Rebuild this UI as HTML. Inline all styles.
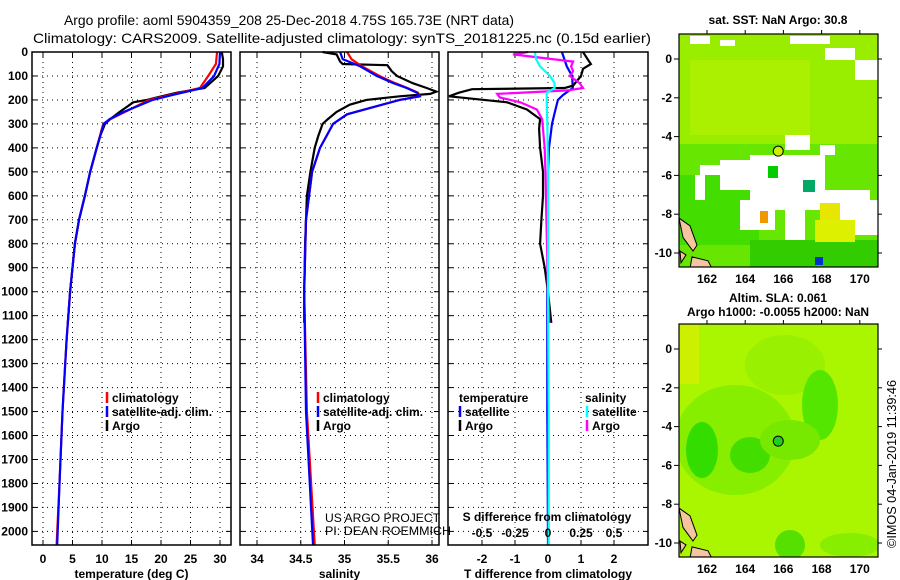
<!DOCTYPE html>
<html><head><meta charset="utf-8">
<style>
body{margin:0;background:#fff;}
svg{display:block;font-family:"Liberation Sans",sans-serif;}
.tk{font-size:12px;font-weight:bold;fill:#000;}
.lg{font-size:12px;font-weight:bold;fill:#000;}
</style></head>
<body>
<svg id="chart" width="900" height="580" viewBox="0 0 900 580" xmlns="http://www.w3.org/2000/svg">
<rect width="900" height="580" fill="#fff"/>
<text x="64" y="25" font-size="14" textLength="450" lengthAdjust="spacingAndGlyphs">Argo profile: aoml 5904359_208 25-Dec-2018 4.75S 165.73E (NRT data)</text>
<text x="33" y="43" font-size="14" textLength="618" lengthAdjust="spacingAndGlyphs">Climatology: CARS2009. Satellite-adjusted climatology: synTS_20181225.nc (0.15d earlier)</text>
<g id="plots"></g>
<g id="maps"></g>
<text x="325" y="522" font-size="12" textLength="115" lengthAdjust="spacingAndGlyphs">US ARGO PROJECT</text>
<text x="325" y="535" font-size="12" textLength="126" lengthAdjust="spacingAndGlyphs">PI: DEAN ROEMMICH</text>
<text transform="translate(896,548) rotate(-90)" font-size="13" textLength="168" lengthAdjust="spacingAndGlyphs">©IMOS 04-Jan-2019 11:39:46</text>
</svg>
<script>
const depthTicks=[0,100,200,300,400,500,600,700,800,900,1000,1100,1200,1300,1400,1500,1600,1700,1800,1900,2000];
const tClimDepth=[0,50,100,150,180,200,250,280,300,400,500,600,700,800,900,1000,1200,1500,1800,2056];
const tClimVal=[29.5,29.3,28.0,26.6,21.5,18.0,13.9,11.4,10.2,9.1,8.0,7.1,6.1,5.4,5.0,4.6,4.0,3.3,2.8,2.3];
const tSatVal=[30.0,29.9,29.0,27.0,21.9,18.6,13.7,11.3,10.3,9.1,8.0,7.1,6.1,5.4,5.0,4.6,4.0,3.3,2.8,2.4];
const tArgoDepth=[0,30,60,100,150,170,190,200,210,250,280,300,350,400,500,600,700,800,900,1000,1130];
const tArgoVal=[30.3,30.5,30.5,29.7,27.4,22.7,19.3,17.6,15.3,13.0,11.4,10.5,9.7,9.1,8.0,7.1,6.1,5.4,5.0,4.6,4.2];
const sClimDepth=[0,30,60,100,130,150,170,185,200,230,260,300,400,500,700,1000,1500,2056];
const sClimVal=[35.03,35.08,35.2,35.4,35.58,35.72,35.84,35.86,35.63,35.33,35.03,34.87,34.72,34.63,34.56,34.54,34.57,34.66];
const sSatVal=[34.95,34.98,35.18,35.37,35.56,35.71,35.83,35.86,35.63,35.33,35.03,34.87,34.72,34.63,34.56,34.54,34.56,34.64];
const sArgoDepth=[0,10,40,50,55,80,100,130,150,165,175,185,200,220,250,280,300,350,400,500,600,800,1000,1130];
const sArgoVal=[34.75,34.91,34.95,34.98,35.49,35.54,35.6,35.78,35.94,36.05,35.98,35.63,35.25,35.06,34.91,34.81,34.75,34.7,34.66,34.61,34.57,34.55,34.54,34.54];
const dArgoTDepth=[0,30,50,70,100,140,150,155,170,185,195,210,240,280,320,400,500,600,700,800,900,1000,1130];
const dArgoTVal=[1.06,1.2,1.3,1.06,1.0,0.76,0.5,-2.3,-2.7,-3.0,-2.3,-1.24,-0.64,-0.24,-0.27,-0.24,-0.15,-0.15,-0.2,-0.24,-0.1,0.0,0.1];
const dSatTDepth=[0,60,100,150,180,200,250,300,400,500,1000,1500,2056];
const dSatTVal=[0.42,0.57,0.73,0.75,0.45,0.3,0.21,0.12,0.03,0.0,-0.02,-0.02,0.0];
const dArgoSDepth=[0,10,40,60,80,100,130,150,160,175,190,210,240,280,400,500,1000,1130];
const dArgoSVal=[-0.15,-0.265,0.19,0.175,0.19,0.165,0.24,0.265,0.15,-0.385,-0.365,-0.21,-0.085,-0.045,-0.025,-0.02,0.0,0.01];
const dSatSDepth=[0,30,60,100,130,150,170,200,300,500,1000,1500,2056];
const dSatSVal=[-0.1,-0.09,-0.06,0.015,0.05,0.05,-0.01,-0.01,-0.005,0.0,0.0,0.005,0.005];
const tTicks=[0,5,10,15,20,25,30];
const sTicks=[34,34.5,35,35.5,36];
const sTickLabels=['34','34.5','35','35.5','36'];
const dTTicks=[-2,-1,0,1,2];
const dSTicks=[-0.5,-0.25,0,0.25,0.5];
const dSTickLabels=['-0.5','-0.25','0','0.25','0.5'];

const NS='http://www.w3.org/2000/svg';
function mk(tag,attrs,parent){const e=document.createElementNS(NS,tag);for(const k in attrs)e.setAttribute(k,attrs[k]);parent.appendChild(e);return e;}
const yD=d=>52+d*0.2397;
const pTop=52,pBot=545;
const plots=document.getElementById('plots');
function panel(name,x0,x1,xs,ticks,labels,title){
  const g=mk('g',{},plots);
  
  
  depthTicks.forEach(d=>{const l=mk('line',{x1:x0,x2:x1,y1:yD(d),y2:yD(d),stroke:'#000','stroke-width':1,'stroke-dasharray':'1,4'},g);
    
    
    mk('line',{x1:x0,x2:x0+5,y1:yD(d),y2:yD(d),stroke:'#000'},g);mk('line',{x1:x1-5,x2:x1,y1:yD(d),y2:yD(d),stroke:'#000'},g);});
  ticks.forEach(v=>{const x=xs(v);const l=mk('line',{x1:x,x2:x,y1:pTop,y2:pBot,stroke:'#000','stroke-width':1,'stroke-dasharray':'1,4'},g);
    
    
    mk('line',{x1:x,x2:x,y1:pBot,y2:pBot-5,stroke:'#000'},g);mk('line',{x1:x,x2:x,y1:pTop,y2:pTop+5,stroke:'#000'},g);});
  ticks.forEach((v,i)=>{const t=mk('text',{x:xs(v),y:563,'text-anchor':'middle',class:'tk'},g);t.textContent=labels?labels[i]:String(v);
    
    });
  const tt=mk('text',{x:(x0+x1)/2,y:578,'text-anchor':'middle',class:'tk'},g);tt.textContent=title;
  
  
  return g;
}
function frame(g,x0,x1){const r=mk('rect',{x:x0,y:pTop,width:x1-x0,height:pBot-pTop,fill:'none',stroke:'#000','stroke-width':1.5},g);
  
  }
function line(g,name,depths,vals,xs,color,x0,x1){
  const pts=depths.map((d,i)=>Math.max(x0,Math.min(x1,xs(vals[i]))).toFixed(1)+','+yD(d).toFixed(1)).join(' ');
  const p=mk('polyline',{points:pts,fill:'none',stroke:color,'stroke-width':2.2},g);
  
  }
function legend(g,x,y,color,label){
  if(color){const m=mk('line',{x1:x,x2:x,y1:y-10,y2:y+1,stroke:color,'stroke-width':2.5},g);
    
    }
  const t=mk('text',{x:x+(color?5:0),y:y,class:'lg'},g);t.textContent=label;
  
  }

depthTicks.forEach(d=>{const t=mk('text',{x:28,y:yD(d)+4,'text-anchor':'end',class:'tk'},plots);t.textContent=String(d);
  
  });

const xT=v=>43+v*5.9;
const g1=panel('temperature-panel',32,231,xT,tTicks,null,'temperature (deg C)');
line(g1,'temp-argo',tArgoDepth,tArgoVal,xT,'#000',32,231);
line(g1,'temp-climatology',tClimDepth,tClimVal,xT,'#f00',32,231);
line(g1,'temp-satellite-adj',tClimDepth,tSatVal,xT,'#00f',32,231);
frame(g1,32,231);
legend(g1,107,402,'#f00','climatology');legend(g1,107,416,'#00f','satellite-adj. clim.');legend(g1,107,430,'#000','Argo');

const xS=v=>257+(v-34)*87.5;
const g2=panel('salinity-panel',240,439,xS,sTicks,sTickLabels,'salinity');
line(g2,'sal-argo',sArgoDepth,sArgoVal,xS,'#000',240,439);
line(g2,'sal-climatology',sClimDepth,sClimVal,xS,'#f00',240,439);
line(g2,'sal-satellite-adj',sClimDepth,sSatVal,xS,'#00f',240,439);
frame(g2,240,439);
legend(g2,318,402,'#f00','climatology');legend(g2,318,416,'#00f','satellite-adj. clim.');legend(g2,318,430,'#000','Argo');

const xDT=v=>548+v*33;
const xDS=v=>548+v*132;
const g3=panel('difference-panel',448,648,xDT,dTTicks,null,'T difference from climatology');
line(g3,'tdiff-satellite',dSatTDepth,dSatTVal,xDT,'#00f',448,648);
line(g3,'tdiff-argo',dArgoTDepth,dArgoTVal,xDT,'#000',448,648);
line(g3,'sdiff-argo',dArgoSDepth,dArgoSVal,xDS,'#f0f',448,648);
line(g3,'sdiff-satellite',dSatSDepth,dSatSVal,xDS,'#0ff',448,648);
frame(g3,448,648);
dSTicks.forEach((v,i)=>{const t=mk('text',{x:xDS(v),y:537,'text-anchor':'middle',class:'tk'},g3);t.textContent=dSTickLabels[i];
  
  });
const st=mk('text',{x:547,y:521,'text-anchor':'middle',class:'tk'},g3);st.textContent='S difference from climatology';


legend(g3,459,402,null,'temperature');legend(g3,460,416,'#00f','satellite');legend(g3,460,430,'#000','Argo');
legend(g3,585,402,null,'salinity');legend(g3,587,416,'#0ff','satellite');legend(g3,587,430,'#f0f','Argo');

const maps=document.getElementById('maps');
const lonTicks=[162,164,166,168,170];
const latTicks=[0,-2,-4,-6,-8,-10];
const mx=lon=>707+(lon-162)*19.1;
function map(name,y0,lat0y,title,titleY,fillFn){
  const g=mk('g',{},maps);
  
  
  const my=lat=>lat0y-lat*19.4;
  const cp=mk('clipPath',{id:'c'+name},g);mk('rect',{x:679,y:y0,width:199,height:233},cp);
  const inner=mk('g',{'clip-path':'url(#c'+name+')'},g);
  fillFn(inner,my);
  const c=mk('path',{d:`M679 ${my(-8.2)} L690 ${my(-8.6)} L697 ${my(-9.6)} L693 ${my(-9.9)} L683 ${my(-9.2)} Z M680 ${my(-9.9)} L686 ${my(-10.1)} L681 ${my(-10.5)} Z M692 ${my(-10.2)} L708 ${my(-10.4)} L713 ${my(-10.9)} L690 ${my(-10.8)} Z`,fill:'#f5c4a0',stroke:'#000','stroke-width':1},inner);
  
  
  const dot=mk('circle',{cx:mx(165.73),cy:my(-4.75),r:5,fill:name==='sst-map'?'#ccf000':'#22cc22',stroke:'#000','stroke-width':1},g);
  
  
  const fr=mk('rect',{x:679,y:y0,width:199,height:233,fill:'none',stroke:'#000','stroke-width':1.2},g);
  
  
  lonTicks.forEach(v=>{mk('line',{x1:mx(v),x2:mx(v),y1:y0,y2:y0-4,stroke:'#000'},g);
    const t=mk('text',{x:mx(v),y:y0+249,'text-anchor':'middle',class:'tk'},g);t.textContent=String(v);
    
    });
  latTicks.forEach(v=>{mk('line',{x1:674,x2:679,y1:my(v),y2:my(v),stroke:'#000'},g);mk('line',{x1:878,x2:882,y1:my(v),y2:my(v),stroke:'#000'},g);
    const t=mk('text',{x:672,y:my(v)+4,'text-anchor':'end',class:'tk'},g);t.textContent=String(v);
    
    });
  title.forEach((s,i)=>{const t=mk('text',{x:778,y:titleY+i*14,'text-anchor':'middle',class:'tk'},g);t.textContent=s;
    
    });
}
map('sst-map',34,59,['sat. SST: NaN Argo: 30.8'],24,(g,my)=>{
  mk('rect',{x:679,y:34,width:199,height:233,fill:'#66e600'},g);
  mk('rect',{x:679,y:34,width:199,height:110,fill:'#99ee00'},g);
  mk('rect',{x:690,y:60,width:120,height:75,fill:'#aaf000'},g);
  mk('rect',{x:679,y:175,width:80,height:70,fill:'#44dd00'},g);
  mk('rect',{x:750,y:240,width:128,height:27,fill:'#33cc00'},g);
  [[690,36,20,8],[720,40,15,6],[790,36,40,8],[825,48,30,12],[855,60,23,20],[700,165,25,10],[720,160,40,30],[750,155,75,45],[785,135,25,15],[820,145,15,10],[695,175,10,25],[755,190,90,20],[740,200,35,30],[785,205,20,35],[820,190,50,15],[830,200,48,35],[780,170,20,22]].forEach(r=>{
    mk('rect',{x:r[0],y:r[1],width:r[2],height:r[3],fill:'#fff'},g);});
  mk('rect',{x:768,y:166,width:10,height:12,fill:'#00cc00'},g);
  mk('rect',{x:760,y:211,width:8,height:12,fill:'#f09800'},g);
  mk('rect',{x:820,y:203,width:20,height:25,fill:'#e6e600'},g);
  mk('rect',{x:815,y:220,width:40,height:22,fill:'#ddf000'},g);
  mk('rect',{x:803,y:180,width:12,height:12,fill:'#00aa66'},g);
  mk('rect',{x:815,y:257,width:8,height:8,fill:'#0033cc'},g);
});
map('sla-map',324,349,['Altim. SLA: 0.061','Argo h1000: -0.0055 h2000: NaN'],302,(g,my)=>{
  mk('rect',{x:679,y:324,width:199,height:233,fill:'#aaf500'},g);
  mk('rect',{x:679,y:324,width:20,height:60,fill:'#ccf000'},g);
  mk('ellipse',{cx:785,cy:365,rx:40,ry:30,fill:'#99f000'},g);
  mk('ellipse',{cx:735,cy:440,rx:60,ry:55,fill:'#88ee00'},g);
  mk('ellipse',{cx:702,cy:450,rx:16,ry:28,fill:'#33dd00'},g);
  mk('ellipse',{cx:750,cy:455,rx:20,ry:18,fill:'#44dd00'},g);
  mk('ellipse',{cx:820,cy:405,rx:18,ry:35,fill:'#55e600'},g);
  mk('ellipse',{cx:790,cy:440,rx:30,ry:20,fill:'#77e800'},g);
  mk('ellipse',{cx:790,cy:545,rx:15,ry:15,fill:'#55e000'},g);
  mk('ellipse',{cx:850,cy:545,rx:30,ry:12,fill:'#88ee00'},g);
});
</script>
</body></html>
